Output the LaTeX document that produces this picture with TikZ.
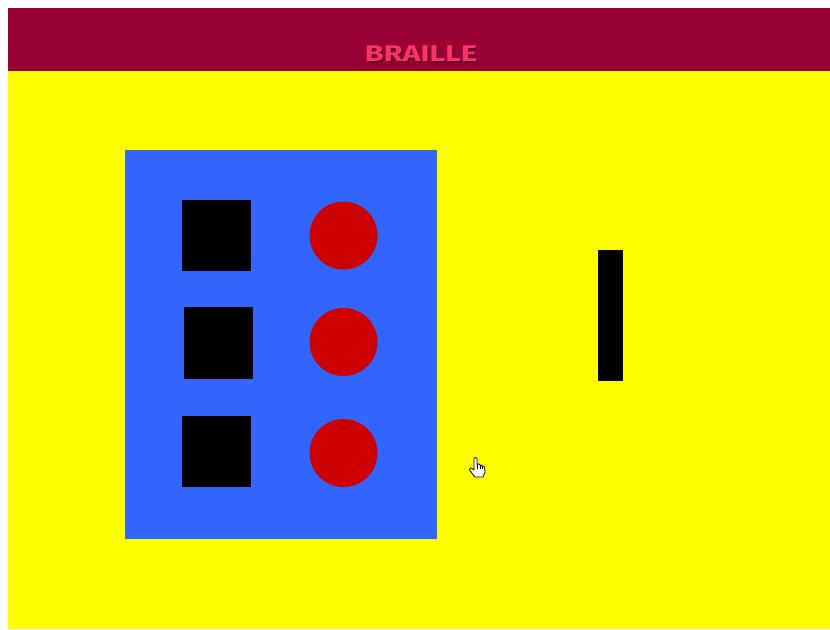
\documentclass[tikz,border=0pt]{standalone}
\usepackage{fontspec}
\setsansfont{Fira Sans}
\definecolor{banner}{HTML}{990033}
\definecolor{bgyellow}{HTML}{FFFF00}
\definecolor{panel}{HTML}{3366FF}
\definecolor{dotred}{HTML}{CC0000}
\definecolor{titlepink}{HTML}{FF3366}
\definecolor{titleshadow}{HTML}{5A0020}
\tikzset{
  cell/.style={fill=black, draw=none},
  dot/.style={fill=dotred, draw=none},
  titletext/.style={font=\sffamily\bfseries\fontsize{17}{17}\selectfont, inner sep=0pt, xscale=1.35}
}
\begin{document}
\begin{tikzpicture}[x=0.75pt,y=-0.75pt]
\useasboundingbox (0,0) rectangle (830,629);
\fill[white] (0,0) rectangle (830,629);
% banner and background
\fill[banner] (8,8) rectangle (830,71);
\fill[bgyellow] (8,71) rectangle (830,629);
% title
\node[titletext, text=titleshadow] at (422.5,55.5) {BRAILLE};
\node[titletext, text=titlepink] (title) at (421,54) {BRAILLE};
% panel
\fill[panel] (125,150) rectangle (437,539);
% squares
\fill[cell] (182,200) rectangle (251,271);
\fill[cell] (184,307) rectangle (253,379);
\fill[cell] (182,416) rectangle (251,487);
% circles
\fill[dot] (343.5,235.5) circle[radius=34];
\fill[dot] (343.5,342) circle[radius=34];
\fill[dot] (343.5,453) circle[radius=34];
% bar
\fill[black] (598,250) rectangle (623,381);
% hand cursor
\draw[black, fill=white, line width=0.6pt, line join=round]
  (474,470) -- (474,458.5) .. controls (474,457) and (477,457) .. (477,458.5)
  -- (477,464) -- (479,464) -- (480,465) -- (481,465) -- (482,466) -- (483,466)
  -- (484.5,467) -- (485,472) -- (483,477) -- (475,477) -- (471,472)
  -- (469.5,469.5) .. controls (469.5,468) and (471,467.5) .. (472,468.5) -- cycle;
\draw[black, line width=0.5pt] (477,464) -- (477,469) (480,465) -- (480,469) (482.5,466) -- (482.5,469);
\end{tikzpicture}
\end{document}
